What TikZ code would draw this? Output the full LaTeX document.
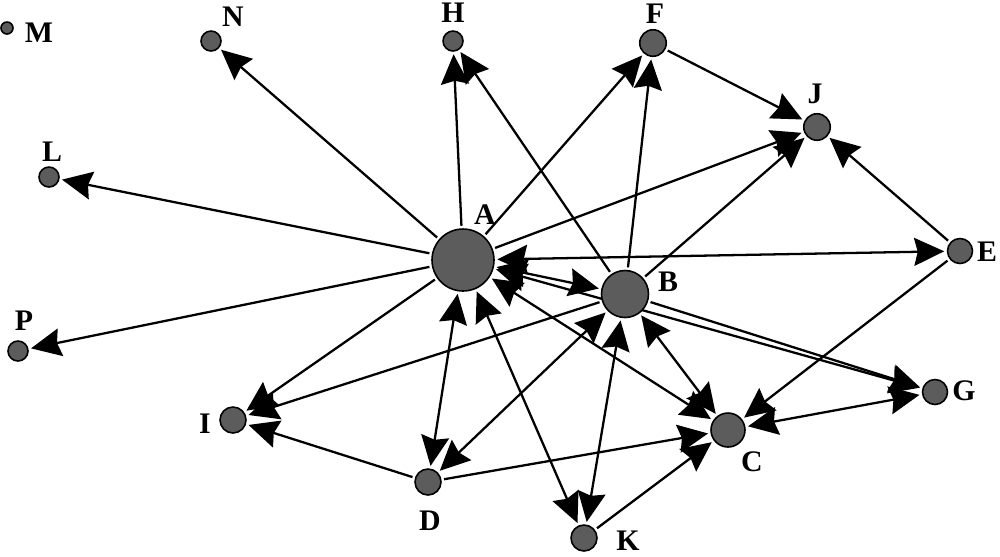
\documentclass[tikz,border=0pt]{standalone}
\usepackage{fontspec}
\setmainfont{Liberation Serif}
\usetikzlibrary{arrows.meta}
\pgfdeclarelayer{bg}
\pgfsetlayers{bg,main}
\definecolor{nodegray}{RGB}{92,92,92}

\begin{document}
\begin{tikzpicture}[x=0.02cm,y=-0.02cm,line join=round,line cap=round,>={Stealth[length=6mm,width=5.6mm,inset=0.7mm]}]
                \tikzset{actor/.style={circle,draw=black,line width=0.9pt,fill=nodegray,inner sep=0pt},
                    lab/.style={font=\fontsize{17}{20}\selectfont\bfseries,inner sep=0pt},
                    tie/.style={line width=1.3pt,shorten >=0.5mm,shorten <=0.5mm}}
                \useasboundingbox (0,0) rectangle (1000,556);
                % actors
                \node[actor,minimum size=1.24cm] (A) at (463,260) {};
                \node[actor,minimum size=0.94cm] (B) at (625,294) {};
                \node[actor,minimum size=0.68cm] (C) at (728,430) {};
                \node[actor,minimum size=0.52cm] (D) at (428,482) {};
                \node[actor,minimum size=0.5cm] (E) at (960,251) {};
                \node[actor,minimum size=0.53cm] (F) at (653,43) {};
                \node[actor,minimum size=0.5cm] (G) at (935,392) {};
                \node[actor,minimum size=0.4cm] (H) at (453,41) {};
                \node[actor,minimum size=0.52cm] (I) at (233,420) {};
                \node[actor,minimum size=0.53cm] (J) at (817,127) {};
                \node[actor,minimum size=0.52cm] (K) at (584,538) {};
                \node[actor,minimum size=0.4cm] (L) at (49,177) {};
                \node[actor,minimum size=0.24cm] (M) at (7,28) {};
                \node[actor,minimum size=0.4cm] (N) at (211,41) {};
                \node[actor,minimum size=0.4cm] (P) at (18,351) {};
                % names
                \node[lab] (labA) at (485,215) {A};
                \node[lab] (labB) at (668,282) {B};
                \node[lab] (labC) at (752,462) {C};
                \node[lab] (labD) at (430,521) {D};
                \node[lab] (labE) at (987,252) {E};
                \node[lab] (labF) at (655,14) {F};
                \node[lab] (labG) at (964,391) {G};
                \node[lab] (labH) at (453,13) {H};
                \node[lab] (labI) at (205,424) {I};
                \node[lab] (labJ) at (815,94) {J};
                \node[lab] (labK) at (628,541) {K};
                \node[lab] (labL) at (52,152) {L};
                \node[lab] (labM) at (39,33) {M};
                \node[lab] (labN) at (233,17) {N};
                \node[lab] (labP) at (24,321) {P};
                % ties
                \begin{pgfonlayer}{bg}
                \foreach \s/\t in {A/N,A/L,A/P,A/H,A/F,A/J,A/I,B/H,B/F,B/J,B/I,B/G,F/J,E/J,E/C,D/I,D/C,K/C}
                \draw[tie,->] (\s)--(\t);
                \foreach \s/\t in {A/E,A/B,A/G,A/C,A/K,A/D,B/D,B/K,B/C,C/G}
                \draw[tie,<->] (\s)--(\t);
                \end{pgfonlayer}
            \end{tikzpicture}
\end{document}
